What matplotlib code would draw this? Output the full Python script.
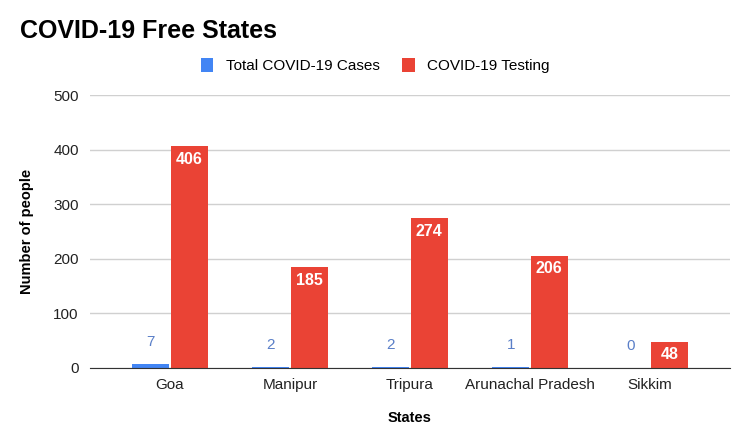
import matplotlib.pyplot as plt
import numpy as np

plt.rcParams['font.family'] = ['Liberation Sans', 'DejaVu Sans']

states = ['Goa', 'Manipur', 'Tripura', 'Arunachal Pradesh', 'Sikkim']
cases = [7, 2, 2, 1, 0]
testing = [406, 185, 274, 206, 48]

blue = '#4285F4'
red = '#EA4335'

fig = plt.figure(figsize=(7.46, 4.37), dpi=100)
ax = fig.add_axes([0.1206, 0.1579, 0.858, 0.6247])

x = np.arange(len(states))
w = 0.31
b1 = ax.bar(x - w / 2 - 0.005, cases, w, color=blue, zorder=3)
b2 = ax.bar(x + w / 2 + 0.005, testing, w, color=red, zorder=3)

for rect, v in zip(b1, cases):
    ax.annotate(str(v), (rect.get_x() + rect.get_width() / 2, v),
                xytext=(0, 11), textcoords='offset points', ha='center', va='bottom',
                color='#5a7fc8', fontsize=11)
for rect, v in zip(b2, testing):
    ax.annotate(str(v), (rect.get_x() + rect.get_width() / 2, v),
                xytext=(0, -4), textcoords='offset points', ha='center', va='top',
                color='white', fontsize=11.5, fontweight='bold')

ax.set_xlim(-0.667, len(states) - 1 + 0.667)
ax.set_ylim(0, 500)
ax.set_yticks([0, 100, 200, 300, 400, 500])
ax.set_xticks(x)
ax.set_xticklabels(states)
ax.yaxis.grid(True, color='#d0d0d0', linewidth=1, zorder=0)
ax.tick_params(length=0, labelsize=11, colors='#222222')
ax.tick_params(axis='x', pad=7)
ax.tick_params(axis='y', pad=8)
for s in ['top', 'right', 'left']:
    ax.spines[s].set_visible(False)
ax.spines['bottom'].set_color('#333333')
ax.spines['bottom'].set_zorder(4)

ax.set_xlabel('States', fontsize=10.5, fontweight='bold', labelpad=14)
ax.set_ylabel('Number of people', fontsize=10.5, fontweight='bold', labelpad=14)

fig.text(0.027, 0.928, 'COVID-19 Free States', fontsize=18, fontweight='bold', va='center')
fig.legend([b1, b2], ['Total COVID-19 Cases', 'COVID-19 Testing'], loc='center',
           bbox_to_anchor=(0.503, 0.85), ncol=2, frameon=False, fontsize=11,
           handlelength=0.8, handleheight=1.1, columnspacing=1.5, handletextpad=0.8)

fig.savefig('out.png', dpi=100, facecolor='white')
